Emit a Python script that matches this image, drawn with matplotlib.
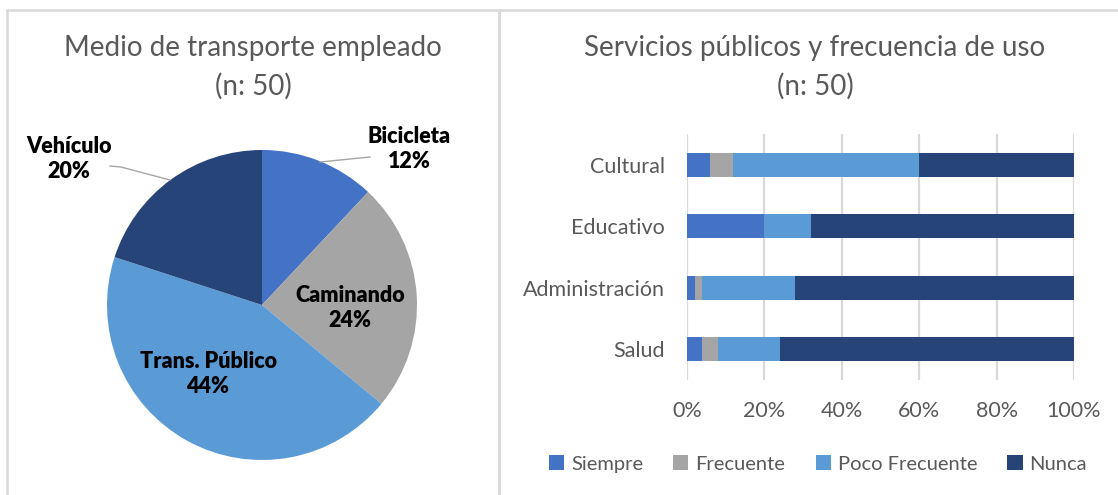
import matplotlib.pyplot as plt
from matplotlib.patches import Rectangle
from matplotlib.lines import Line2D

# Datos: medio de transporte (pastel)
transporte = ['Bicicleta', 'Caminando', 'Trans. Público', 'Vehículo']
transporte_pct = [12, 24, 44, 20]
colores_pie = ['#4472C4', '#A5A5A5', '#5B9BD5', '#264478']

# Datos: servicios públicos (barras apiladas 100%)
servicios = ['Cultural', 'Educativo', 'Administración', 'Salud']
siempre = [6, 20, 2, 4]
frecuente = [6, 0, 2, 4]
poco_frecuente = [48, 12, 24, 16]
nunca = [40, 68, 72, 76]
series = ['Siempre', 'Frecuente', 'Poco Frecuente', 'Nunca']
colores_bar = ['#4472C4', '#A5A5A5', '#5B9BD5', '#264478']
ticks_x = [0, 20, 40, 60, 80, 100]

plt.rcParams['font.family'] = ['Lato', 'DejaVu Sans']
W, H = 1118, 495
fig = plt.figure(figsize=(W / 100, H / 100), dpi=100)
gris = '#595959'

# Bordes de los paneles
borde = '#D9D9D9'
fig.patches.append(Rectangle((7 / W, -0.1), (499 - 7) / W, (H - 10) / H + 0.1,
                             transform=fig.transFigure, fill=False, edgecolor=borde, linewidth=1.8))
fig.patches.append(Rectangle((499 / W, -0.1), 0.6, (H - 10) / H + 0.1,
                             transform=fig.transFigure, fill=False, edgecolor=borde, linewidth=1.8))

# Grafico de pastel
cx, cy, R = 262, 305, 155
ax1 = fig.add_axes([(cx - R) / W, (H - cy - R) / H, 2 * R / W, 2 * R / H])
ax1.pie(transporte_pct, colors=colores_pie, startangle=90, counterclock=False,
        radius=1, wedgeprops=dict(linewidth=0))
ax1.set_xlim(-1, 1)
ax1.set_ylim(-1, 1)
ax1.set_aspect('auto')
ax1.axis('off')

def px(x, y):
    return ((x - cx) / R, (cy - y) / R)

pos_etiquetas = [(409, 149), (350, 308), (208, 374), (69, 159)]
for nombre, pct, (x, y) in zip(transporte, transporte_pct, pos_etiquetas):
    ax1.text(*px(x, y), f'{nombre}\n{pct}%', ha='center', va='center',
             fontsize=15.5, fontweight='heavy', color='black', linespacing=1.25)

# lineas guia
for pts in [[(320, 162), (370, 157)], [(110, 166), (121, 167), (170, 180)]]:
    xs = [px(*p)[0] for p in pts]
    ys = [px(*p)[1] for p in pts]
    ax1.add_line(Line2D(xs, ys, color='#A6A6A6', linewidth=1, clip_on=False))

fig.text(253 / W, 1 - 48 / H, 'Medio de transporte empleado', ha='center', va='center',
         fontsize=20, color=gris)
fig.text(253 / W, 1 - 86 / H, '(n: 50)', ha='center', va='center', fontsize=20, color=gris)

# Grafico de barras apiladas
ax2 = fig.add_axes([687 / W, (H - 380) / H, (1074 - 687) / W, (380 - 134) / H])
izq = [0] * len(servicios)
for nombre, vals, col in zip(series, [siempre, frecuente, poco_frecuente, nunca], colores_bar):
    ax2.barh(servicios, vals, left=izq, height=0.39, color=col, label=nombre, zorder=3)
    izq = [a + b for a, b in zip(izq, vals)]
ax2.set_xlim(0, 100)
ax2.set_ylim(3.5, -0.5)
ax2.set_xticks(ticks_x)
ax2.set_xticklabels([f'{t}%' for t in ticks_x])
ax2.tick_params(axis='both', length=0, labelsize=15.5, labelcolor=gris)
ax2.tick_params(axis='x', pad=15)
ax2.tick_params(axis='y', pad=16)
ax2.grid(axis='x', color='#D9D9D9', linewidth=1.6, zorder=0)
for s in ax2.spines.values():
    s.set_visible(False)

fig.text(815 / W, 1 - 48 / H, 'Servicios públicos y frecuencia de uso', ha='center', va='center',
         fontsize=20, color=gris)
fig.text(815 / W, 1 - 86 / H, '(n: 50)', ha='center', va='center', fontsize=20, color=gris)

fig.legend(loc='center', bbox_to_anchor=(818 / W, 1 - 464 / H), ncol=4, frameon=False,
           fontsize=14.5, labelcolor=gris, handlelength=0.75, handleheight=0.75,
           handletextpad=0.35, columnspacing=1.5)

fig.savefig('out.png', dpi=100)
